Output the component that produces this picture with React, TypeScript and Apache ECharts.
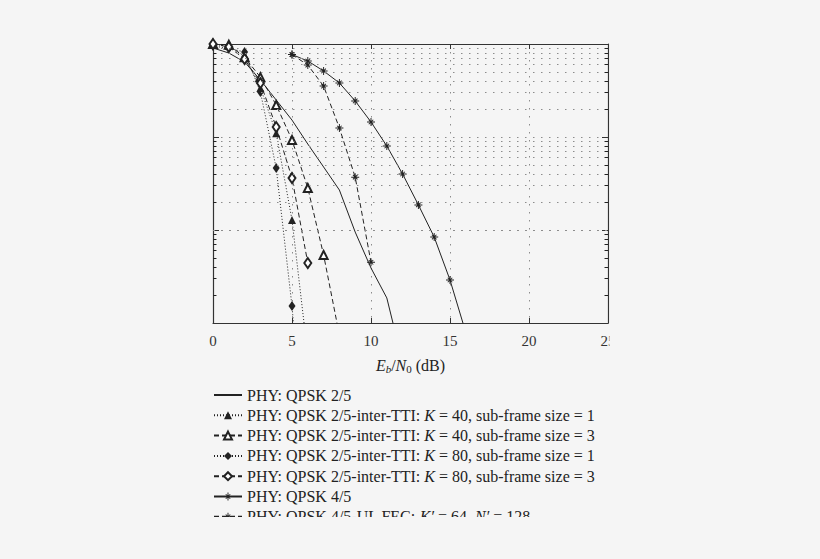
import React, { useEffect, useRef } from "react";
import * as echarts from "echarts";

// x axis ticks (dB)
const xTicks = [0, 5, 10, 15, 20, 25];

// series names, as in the legend
const seriesNames = [
  "PHY: QPSK 2/5",
  "PHY: QPSK 2/5-inter-TTI: K = 40, sub-frame size = 1",
  "PHY: QPSK 2/5-inter-TTI: K = 40, sub-frame size = 3",
  "PHY: QPSK 2/5-inter-TTI: K = 80, sub-frame size = 1",
  "PHY: QPSK 2/5-inter-TTI: K = 80, sub-frame size = 3",
  "PHY: QPSK 4/5",
  "PHY: QPSK 4/5-UL FEC: K′ = 64, N′ = 128",
];

// values (BLER, log scale)
const xPhy25 = [0, 1, 2, 3, 4, 5, 6, 7, 8, 9, 10, 11, 11.5];
const yPhy25 = [0.906, 0.8, 0.64, 0.41, 0.25, 0.152, 0.084, 0.0476, 0.0269, 0.0095, 0.0039, 0.00186, 0.00084];

const xK40s1 = [0, 1, 2, 3, 4, 5, 6];
const yK40s1 = [0.99, 0.95, 0.74, 0.337, 0.11, 0.0128, 0.00045];

const xK40s3 = [0, 1, 2, 3, 4, 5, 6, 7, 8];
const yK40s3 = [1.0, 0.98, 0.72, 0.44, 0.221, 0.093, 0.0283, 0.0054, 0.00074];

const xK80s1 = [0, 1, 2, 3, 4, 5, 5.2];
const yK80s1 = [0.95, 0.9, 0.82, 0.305, 0.0464, 0.00152, 0.0006];

const xK80s3 = [0, 1, 2, 3, 4, 5, 6];
const yK80s3 = [1.0, 0.93, 0.69, 0.38, 0.128, 0.0362, 0.00442];

const xPhy45 = [5, 6, 7, 8, 9, 10, 11, 12, 13, 14, 15, 16];
const yPhy45 = [0.77, 0.656, 0.513, 0.381, 0.244, 0.145, 0.08, 0.04, 0.0186, 0.0084, 0.0029, 0.00079];

const xUlFec = [5, 6, 7, 8, 9, 10];
const yUlFec = [0.77, 0.594, 0.353, 0.125, 0.037, 0.0045];

// last point only carries the line past the axis (no marker)
const lineOnlyLast = [true, true, true, true, false, true, false];

const minorValues = [0.001, 0.01, 0.1].flatMap((d) =>
  [2, 3, 4, 5, 6, 7, 8, 9].map((m) => +(m * d).toPrecision(3))
);

const FONT = "'Liberation Serif', 'DejaVu Serif', serif";
const INK = "#222";
const BG = "#f5f5f5";
const STAR =
  "path://M-5,-0.6L5,-0.6L5,0.6L-5,0.6Z M-0.6,-5L0.6,-5L0.6,5L-0.6,5Z M-3.25,-2.41L-2.41,-3.25L3.25,2.41L2.41,3.25Z M-2.41,3.25L-3.25,2.41L2.41,-3.25L3.25,-2.41Z M-1.6,-1.6L1.6,-1.6L1.6,1.6L-1.6,1.6Z";

const DOT = [1, 2];
const DASH = [5, 3];

const styles = [
  { type: "solid", symbol: "none", size: 0 },
  { type: DOT, symbol: "triangle", size: 8 },
  { type: DASH, symbol: "emptyTriangle", size: 8 },
  { type: DOT, symbol: "diamond", size: [7, 10] },
  { type: DASH, symbol: "emptyDiamond", size: [7, 10] },
  { type: "solid", symbol: STAR, size: 8 },
  { type: DASH, symbol: STAR, size: 8 },
];

const xs = [xPhy25, xK40s1, xK40s3, xK80s1, xK80s3, xPhy45, xUlFec];
const ys = [yPhy25, yK40s1, yK40s3, yK80s1, yK80s3, yPhy45, yUlFec];

const App: React.FC = () => {
  const chartRef = useRef<HTMLDivElement>(null);

  useEffect(() => {
    if (!chartRef.current) return;
    const chart = echarts.init(chartRef.current, null, { renderer: "svg" });

    const tickSegments: any[] = [];
    minorValues.forEach((v) => {
      tickSegments.push([
        { coord: [0, v], lineStyle: { type: "solid", color: INK, width: 1 } },
        { coord: [0.22, v] },
      ]);
      tickSegments.push([
        { coord: [24.78, v], lineStyle: { type: "solid", color: INK, width: 1 } },
        { coord: [25, v] },
      ]);
    });

    const series = seriesNames.map((name, i) => {
      const n = xs[i].length;
      return {
        name,
        type: "line",
        xAxisIndex: 0,
        yAxisIndex: 0,
        data: xs[i].map((x, j) =>
          j === n - 1 && lineOnlyLast[i]
            ? { value: [x, ys[i][j]], symbol: "none" }
            : [x, ys[i][j]]
        ),
        symbol: styles[i].symbol,
        symbolSize: styles[i].size,
        showSymbol: styles[i].symbol !== "none",
        lineStyle: { color: INK, width: 1, type: styles[i].type },
        itemStyle: { color: INK, borderWidth: 1 },
        z: 3,
        markLine:
          i === 0
            ? {
                silent: true,
                symbol: ["none", "none"],
                label: { show: false },
                animation: false,
                lineStyle: { type: [1.5, 6.5], color: "#8c8c8c", width: 1 },
                data: [...minorValues.map((v) => ({ yAxis: v })), ...tickSegments],
              }
            : undefined,
      };
    });

    const option = {
      animation: false,
      backgroundColor: BG,
      grid: { left: 213, right: 212, top: 44, bottom: 236, containLabel: false },
      xAxis: [
        {
          type: "value",
          min: xTicks[0],
          max: xTicks[xTicks.length - 1],
          interval: 5,
          position: "bottom",
          name: "{ie|E}{sb|b}{n|/}{ie|N}{s0|0}{n| (dB)}",
          nameLocation: "middle",
          nameGap: 33,
          nameTextStyle: {
            fontFamily: FONT,
            fontSize: 16,
            color: INK,
            rich: {
              ie: { fontFamily: FONT, fontSize: 16, fontStyle: "italic", color: INK, lineHeight: 18 },
              n: { fontFamily: FONT, fontSize: 16, color: INK, lineHeight: 18 },
              sb: { fontFamily: FONT, fontSize: 11, fontStyle: "italic", color: INK, verticalAlign: "bottom", lineHeight: 10 },
              s0: { fontFamily: FONT, fontSize: 11, color: INK, verticalAlign: "bottom", lineHeight: 10 },
            },
          },
          axisLine: { lineStyle: { color: "#333", width: 1.2 } },
          axisTick: { inside: true, length: 5, lineStyle: { color: "#333" } },
          axisLabel: { fontFamily: FONT, fontSize: 15, color: "#333", margin: 10 },
          splitLine: { show: true, lineStyle: { type: [1.5, 6.5], color: "#8c8c8c", width: 1 } },
        },
        {
          type: "value",
          min: xTicks[0],
          max: xTicks[xTicks.length - 1],
          interval: 5,
          position: "top",
          axisLine: { show: true, lineStyle: { color: "#333", width: 1.2 } },
          axisTick: { show: true, inside: true, length: 5, lineStyle: { color: "#333" } },
          axisLabel: { show: false },
          splitLine: { show: false },
        },
      ],
      yAxis: [
        {
          type: "log",
          min: 0.001,
          max: 1,
          logBase: 10,
          position: "left",
          axisLine: { show: true, onZero: false, lineStyle: { color: "#333", width: 1.2 } },
          axisTick: { show: true, inside: true, length: 6, lineStyle: { color: "#333" } },
          axisLabel: { show: false },
          splitLine: { show: true, lineStyle: { type: [1.5, 6.5], color: "#8c8c8c", width: 1 } },
        },
        {
          type: "log",
          min: 0.001,
          max: 1,
          logBase: 10,
          position: "right",
          axisLine: { show: true, onZero: false, lineStyle: { color: "#333", width: 1.2 } },
          axisTick: { show: true, inside: true, length: 6, lineStyle: { color: "#333" } },
          axisLabel: { show: false },
          splitLine: { show: false },
        },
      ],
      legend: {
        orient: "vertical",
        left: 208,
        top: 381,
        padding: 5,
        itemWidth: 28,
        itemHeight: 10,
        itemGap: 2.3,
        selectedMode: false,
        data: seriesNames.map((name, i) =>
          i === 0 ? { name, itemStyle: { opacity: 0 } } : { name }
        ),
        formatter: (name: string) => name.replace(/([KN]′?)(?= =)/g, "{i|$1}"),
        textStyle: {
          fontFamily: FONT,
          fontSize: 16,
          color: INK,
          lineHeight: 18,
          rich: {
            i: { fontFamily: FONT, fontSize: 16, fontStyle: "italic", color: INK, lineHeight: 18 },
          },
        },
      },
      graphic: [
        {
          type: "rect",
          z: 100,
          silent: true,
          shape: { x: 0, y: 517, width: 820, height: 42 },
          style: { fill: BG },
        },
        {
          type: "rect",
          z: 100,
          silent: true,
          shape: { x: 609.5, y: 0, width: 211, height: 517 },
          style: { fill: BG },
        },
      ],
      series,
    };

    chart.setOption(option);
    return () => chart.dispose();
  }, []);

  return (
    <div style={{ position: "fixed", left: 0, top: 0, width: 820, height: 559, background: BG }}>
      <div ref={chartRef} style={{ width: 820, height: 559 }} />
    </div>
  );
};

export default App;
